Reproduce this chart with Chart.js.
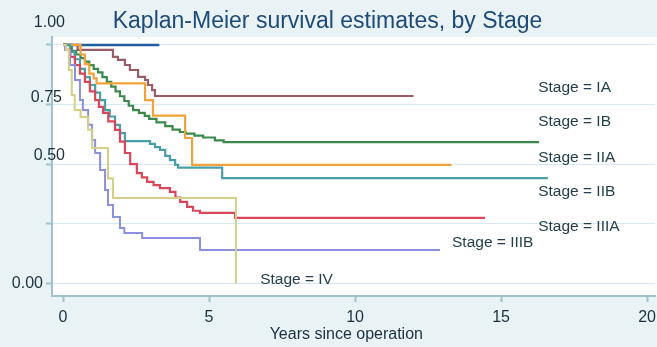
<!DOCTYPE html>
<html>
<head>
<meta charset="utf-8">
<script src="https://cdn.jsdelivr.net/npm/chart.js@4/dist/chart.umd.min.js"></script>
<style>
  html, body { margin: 0; padding: 0; background: #ffffff; }
  #wrap { width: 657px; height: 347px; position: relative; }
</style>
</head>
<body>
<div id="wrap"><canvas id="km"></canvas></div>
<script>
// Kaplan-Meier estimates: time of each step (years) and survival after the step
const navyTimes = [0, 3.3];
const navySurv  = [1, 1];

const iaTimes = [0, 0.5, 1.71, 1.88, 2.12, 2.29, 2.57, 2.81, 2.91, 3.05, 3.15, 12.0];
const iaSurv  = [1, 0.979, 0.950, 0.937, 0.916, 0.895, 0.866, 0.853, 0.832, 0.811, 0.786, 0.786];

const ibTimes = [0, 0.3, 0.45, 0.6, 0.75, 0.9, 1.05, 1.2, 1.35, 1.5, 1.65, 1.8, 1.95, 2.1, 2.25, 2.4, 2.6, 2.8, 2.95, 3.2, 3.5, 3.75, 4.0, 4.2, 4.5, 4.8, 5.2, 5.5, 16.3];
const ibSurv  = [1, 0.975, 0.96, 0.945, 0.93, 0.915, 0.90, 0.885, 0.865, 0.845, 0.825, 0.805, 0.785, 0.765, 0.745, 0.727, 0.715, 0.703, 0.69, 0.675, 0.66, 0.645, 0.635, 0.628, 0.62, 0.612, 0.60, 0.593, 0.593];

const iiaTimes = [0, 0.6, 0.75, 0.9, 1.05, 1.15, 2.81, 3.08, 4.18, 4.42, 13.3];
const iiaSurv  = [1, 0.96, 0.92, 0.88, 0.86, 0.839, 0.769, 0.704, 0.61, 0.497, 0.497];

const iibTimes = [0, 0.24, 0.4, 0.58, 0.75, 0.92, 1.1, 1.27, 1.44, 1.6, 1.78, 1.95, 2.12, 2.98, 3.15, 3.32, 3.5, 3.66, 3.84, 3.94, 5.45, 16.6];
const iibSurv  = [1, 0.971, 0.94, 0.90, 0.865, 0.832, 0.80, 0.769, 0.727, 0.70, 0.665, 0.63, 0.597, 0.585, 0.572, 0.56, 0.535, 0.517, 0.497, 0.486, 0.442, 0.442];

const iiiaTimes = [0, 0.10, 0.25, 0.41, 0.58, 0.75, 0.92, 1.10, 1.23, 1.37, 1.55, 1.78, 1.95, 2.12, 2.3, 2.53, 2.7, 2.88, 3.1, 3.32, 3.66, 3.85, 4.01, 4.25, 4.45, 4.69, 5.89, 14.45];
const iiiaSurv  = [1, 0.979, 0.95, 0.916, 0.88, 0.845, 0.805, 0.769, 0.74, 0.715, 0.68, 0.644, 0.595, 0.547, 0.50, 0.463, 0.445, 0.426, 0.412, 0.400, 0.384, 0.36, 0.342, 0.321, 0.305, 0.296, 0.275, 0.275];

const iiibTimes = [0, 0.07, 0.24, 0.41, 0.58, 0.68, 0.86, 0.99, 1.10, 1.27, 1.44, 1.54, 1.71, 1.95, 2.1, 2.71, 4.69, 12.91];
const iiibSurv  = [1, 0.979, 0.916, 0.853, 0.769, 0.727, 0.665, 0.602, 0.547, 0.476, 0.392, 0.329, 0.279, 0.233, 0.212, 0.191, 0.140, 0.140];

const ivTimes = [0, 0.1, 0.2, 0.3, 0.4, 0.6, 0.86, 1.0, 1.54, 1.71, 5.92];
const ivSurv  = [1, 0.979, 0.895, 0.79, 0.727, 0.698, 0.644, 0.568, 0.44, 0.358, 0];

const xTicks = [0, 5, 10, 15, 20];
const yTicks = [0, 0.25, 0.5, 0.75, 1];
const yTickLabels = ['0.00', '', '0.50', '0.75', '1.00'];

const stageNames = ['Stage = IA', 'Stage = IB', 'Stage = IIA', 'Stage = IIB', 'Stage = IIIA', 'Stage = IIIB', 'Stage = IV'];

// ---- drawing ----
const FONT = '"Liberation Sans", Arial, Helvetica, sans-serif';
const AXIS = '#9fc3cc';

// where each stage caption sits, in (years, survival) units
const stageNoteAt = [
  [16.27, 0.820], [16.27, 0.677], [16.27, 0.526], [16.27, 0.384],
  [16.27, 0.237], [13.32, 0.170], [6.75, 0.015]
];
// small pixel nudges for the survival axis labels
const yLabelNudge = { 1: [13, -22], 0.75: [10, -6.5], 0.5: [13, -9], 0: [-9, 0], 0.25: [0, 0] };

function pts(ts, vs) { return ts.map((t, i) => ({ x: t, y: vs[i] })); }

const series = [
  { name: 'navy',  t: navyTimes, s: navySurv, color: '#1f5f9f', w: 2.6 },
  { name: 'IA',    t: iaTimes,   s: iaSurv,   color: '#9a5c66', w: 2.2 },
  { name: 'IB',    t: ibTimes,   s: ibSurv,   color: '#3b8a4c', w: 2.2 },
  { name: 'IIA',   t: iiaTimes,  s: iiaSurv,  color: '#f2a23c', w: 2.2 },
  { name: 'IIB',   t: iibTimes,  s: iibSurv,  color: '#4a9ea6', w: 2.2 },
  { name: 'IIIA',  t: iiiaTimes, s: iiiaSurv, color: '#d8485a', w: 2.2 },
  { name: 'IIIB',  t: iiibTimes, s: iiibSurv, color: '#8a8fe0', w: 2.0 },
  { name: 'IV',    t: ivTimes,   s: ivSurv,   color: '#d4ce86', w: 2.0 }
];

const datasets = series.map((g, i) => ({
  label: g.name,
  data: pts(g.t, g.s),
  borderColor: g.color,
  borderWidth: g.w,
  stepped: true,
  pointRadius: 0,
  fill: false,
  order: series.length - i
}));

const backdrop = {
  id: 'backdrop',
  beforeDraw(chart) {
    const { ctx, chartArea: a } = chart;
    ctx.save();
    ctx.fillStyle = '#e9f2f5';
    ctx.fillRect(0, 0, chart.width, chart.height);
    ctx.fillStyle = '#ffffff';
    ctx.fillRect(a.left, a.top, chart.width - a.left, a.bottom - a.top);
    ctx.restore();
  }
};

const captions = {
  id: 'captions',
  afterDraw(chart) {
    const { ctx, chartArea: a } = chart;
    const xs = chart.scales.x, ys = chart.scales.y;
    ctx.save();
    // survival axis labels
    ctx.font = '16px ' + FONT;
    ctx.fillStyle = '#1a303c';
    ctx.textAlign = 'right';
    ctx.textBaseline = 'middle';
    yTicks.forEach((v, i) => {
      const txt = yTickLabels[i];
      if (!txt) return;
      const n = yLabelNudge[v] || [0, 0];
      ctx.fillText(txt, a.left + n[0], ys.getPixelForValue(v) + n[1]);
    });
    // stage captions
    ctx.font = '15.5px ' + FONT;
    ctx.fillStyle = '#243f4b';
    ctx.textAlign = 'left';
    stageNames.forEach((txt, i) => {
      const p = stageNoteAt[i];
      ctx.fillText(txt, xs.getPixelForValue(p[0]), ys.getPixelForValue(p[1]));
    });
    // time axis title
    ctx.font = '16px ' + FONT;
    ctx.fillStyle = '#1a303c';
    ctx.textAlign = 'center';
    ctx.fillText('Years since operation', xs.getPixelForValue(9.7), a.bottom + 39);
    ctx.restore();
  }
};

new Chart(document.getElementById('km'), {
  type: 'line',
  data: { datasets },
  plugins: [backdrop, captions],
  options: {
    responsive: true,
    maintainAspectRatio: false,
    animation: false,
    devicePixelRatio: 1,
    layout: { padding: { left: 0, right: 2, top: 0, bottom: 0 } },
    plugins: {
      legend: { display: false },
      tooltip: { enabled: false },
      title: {
        display: true,
        text: 'Kaplan-Meier survival estimates, by Stage',
        color: '#1d4a78',
        font: { family: FONT, size: 23, weight: 'normal', lineHeight: 1.15 },
        padding: { top: 8, bottom: 2.5 }
      }
    },
    scales: {
      x: {
        type: 'linear',
        min: -0.377,
        max: 20.27,
        afterBuildTicks(s) { s.ticks = xTicks.map(v => ({ value: v })); },
        afterFit(s) { s.height = 51; s.paddingLeft = 0; s.paddingRight = 0; },
        grid: { display: true, drawOnChartArea: false, drawTicks: true, tickLength: 6, tickColor: AXIS, tickWidth: 2 },
        border: { display: true, color: AXIS, width: 2 },
        ticks: { color: '#1a303c', font: { family: FONT, size: 16 }, padding: 6, maxRotation: 0, autoSkip: false,
                 callback: v => String(v) }
      },
      y: {
        type: 'linear',
        min: -0.0524,
        max: 1.0335,
        afterBuildTicks(s) { s.ticks = yTicks.map(v => ({ value: v })); },
        afterFit(s) { s.width = 52; },
        grid: { display: true, color: '#d7eaf1', lineWidth: 1, drawTicks: true, tickLength: 6, tickColor: AXIS, tickWidth: 2 },
        border: { display: true, color: AXIS, width: 2 },
        ticks: { display: false }
      }
    }
  }
});
</script>
</body>
</html>
